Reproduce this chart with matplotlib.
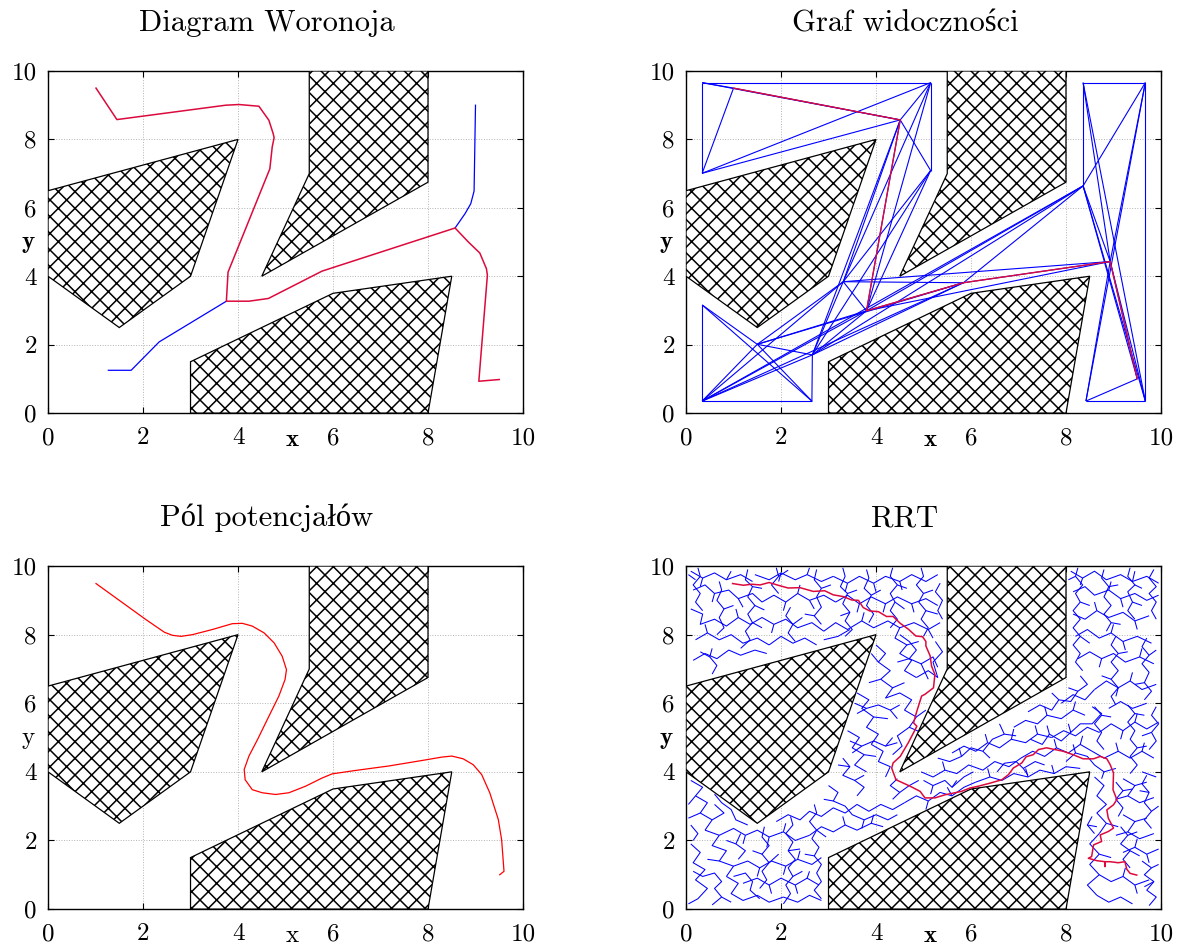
import matplotlib
matplotlib.use('Agg')
import matplotlib.pyplot as plt
from matplotlib.patches import Polygon
from matplotlib.collections import LineCollection

plt.rcParams['font.family'] = ['cmr10', 'Liberation Serif']
plt.rcParams['hatch.linewidth'] = 1.1

# Workspace obstacles (same map in every panel).
obstacle_left = [(0, 6.5), (4, 8), (3, 4), (1.5, 2.5), (0, 4)]
obstacle_top = [(5.5, 10), (8, 10), (8, 6.75), (4.5, 4), (5.5, 7)]
obstacle_bottom = [(3, 0), (3, 1.5), (6, 3.5), (8.5, 4), (8, 0)]

tick_values = [0, 2, 4, 6, 8, 10]
tick_labels = ['0', '2', '4', '6', '8', '10']

titles = ['Diagram Woronoja', 'Graf widoczności', 'Pól potencjałów', 'RRT']

# Voronoi diagram: chosen route and the unused side branches.
voronoi_path = [(1.01, 9.5), (1.45, 8.58), (3.74, 9.0), (4.02, 9.02), (4.44, 8.97),
                (4.65, 8.56), (4.74, 8.17), (4.76, 8.05), (4.72, 7.78), (4.67, 7.14),
                (3.79, 4.12), (3.755, 3.27), (4.23, 3.27), (4.64, 3.35), (5.77, 4.15),
                (8.57, 5.41), (8.85, 5.0), (9.09, 4.68), (9.23, 4.22), (9.25, 4.03),
                (9.07, 0.93), (9.5, 0.98)]
voronoi_branches = [
    [(3.755, 3.27), (2.34, 2.08), (1.75, 1.25), (1.27, 1.25)],
    [(8.57, 5.41), (8.78, 5.83), (8.90, 6.12), (8.97, 6.49), (9.0, 9.0)],
]

# Visibility graph nodes, edges and the shortest route through them.
vis_nodes = {
    'A': (0.34, 9.66), 'B': (1.0, 9.5), 'C': (0.34, 7.01), 'D': (4.51, 8.57),
    'E': (5.15, 9.66), 'F': (5.15, 7.09), 'G': (3.31, 3.84), 'H': (3.80, 2.99),
    'I': (1.50, 2.01), 'J': (2.66, 1.70), 'K': (0.34, 3.16), 'L': (0.34, 0.35),
    'M': (2.65, 0.35), 'N': (8.36, 6.64), 'O': (8.93, 4.43), 'P': (8.36, 9.66),
    'Q': (9.67, 9.66), 'R': (8.42, 0.35), 'S': (9.67, 0.35), 'T': (9.5, 1.0),
    'V': (5.84, 3.81),
}
vis_edges = ['AB', 'BD', 'AD', 'AE', 'AC', 'BC', 'CD', 'CE', 'DE', 'DF', 'EF', 'EG',
             'EH', 'DG', 'DJ', 'DH', 'FG', 'FH', 'FJ', 'GJ', 'GH', 'GI', 'GL', 'GV',
             'GO', 'HI', 'HJ', 'HL', 'HV', 'HN', 'HO', 'IJ', 'IK', 'IL', 'IM', 'IV',
             'JM', 'JL', 'JV', 'JN', 'KL', 'KM', 'LM', 'LV', 'LN', 'VN', 'VO', 'NP',
             'NQ', 'NO', 'NS', 'NT', 'PQ', 'QS', 'RS', 'PS', 'QR', 'OP', 'OQ', 'OR',
             'OS', 'OT', 'RT']
vis_path = ['B', 'D', 'H', 'V', 'O', 'T']

# Potential field trajectory.
potential_path = [(1.01, 9.49), (1.57, 8.93), (2.06, 8.44), (2.45, 8.07), (2.62, 7.98),
                  (2.80, 7.95), (3.04, 8.0), (3.46, 8.15), (3.88, 8.32), (4.09, 8.33),
                  (4.30, 8.25), (4.55, 8.05), (4.76, 7.76), (4.93, 7.37), (5.02, 6.98),
                  (4.99, 6.69), (4.86, 6.21), (4.65, 5.62), (4.41, 4.94), (4.23, 4.46),
                  (4.13, 4.07), (4.15, 3.77), (4.30, 3.48), (4.51, 3.39), (4.79, 3.34),
                  (5.07, 3.39), (5.42, 3.58), (5.77, 3.82), (5.98, 3.94), (6.47, 4.04),
                  (7.17, 4.17), (7.87, 4.33), (8.29, 4.43), (8.50, 4.46), (8.74, 4.38),
                  (8.95, 4.21), (9.13, 3.92), (9.30, 3.39), (9.48, 2.61), (9.55, 2.02),
                  (9.60, 1.10), (9.51, 1.0)]

# RRT: explored tree branches, short side twigs and the extracted route.
rrt_branches = [
    # upper left band
    [(0.1, 9.85), (0.35, 9.65), (0.6, 9.8), (0.85, 9.6), (1.15, 9.75), (1.4, 9.55)],
    [(0.15, 9.3), (0.4, 9.45), (0.6, 9.2), (0.9, 9.3), (1.1, 9.05), (1.4, 9.2), (1.6, 8.95)],
    [(0.1, 8.75), (0.35, 8.6), (0.3, 8.3), (0.6, 8.45), (0.85, 8.25), (1.1, 8.5), (1.35, 8.3)],
    [(0.2, 7.85), (0.45, 8.05), (0.7, 7.85), (0.95, 8.0), (1.2, 7.75), (1.5, 7.9), (1.75, 7.7)],
    [(0.15, 7.25), (0.4, 7.45), (0.65, 7.3), (0.9, 7.55), (1.15, 7.4), (1.45, 7.55)],
    [(1.6, 8.95), (1.85, 9.15), (2.1, 8.95), (2.35, 9.2), (2.6, 9.0), (2.9, 9.15), (3.15, 8.95)],
    [(1.45, 9.75), (1.75, 9.6), (2.0, 9.8), (2.3, 9.6), (2.55, 9.75), (2.85, 9.55), (3.1, 9.7)],
    [(1.35, 8.3), (1.6, 8.5), (1.85, 8.3), (2.1, 8.45), (2.35, 8.2), (2.65, 8.35), (2.9, 8.1)],
    [(1.75, 7.7), (2.0, 7.95), (2.25, 7.75), (2.5, 7.9), (2.75, 7.7)],
    [(3.1, 9.7), (3.4, 9.5), (3.65, 9.7), (3.95, 9.5), (4.2, 9.7), (4.5, 9.55), (4.75, 9.75),
     (5.05, 9.55), (5.3, 9.75)],
    [(3.15, 8.95), (3.4, 9.15), (3.65, 8.9), (3.9, 9.1), (4.2, 8.9), (4.45, 9.1), (4.75, 8.9),
     (5.05, 9.05), (5.3, 8.85)],
    [(2.9, 8.1), (3.15, 8.35), (3.4, 8.15), (3.7, 8.4), (3.95, 8.2), (4.25, 8.4), (4.5, 8.2),
     (4.8, 8.35), (5.1, 8.15), (5.35, 8.35)],
    [(2.9, 7.85), (3.2, 7.95), (3.45, 8.15)],
    [(0.25, 9.95), (0.3, 9.7), (0.15, 9.45), (0.3, 9.2), (0.2, 8.95), (0.35, 8.7)],
    [(0.7, 9.55), (0.75, 9.3), (0.65, 9.0), (0.8, 8.75), (0.7, 8.5), (0.8, 8.2), (0.65, 8.0)],
    [(1.3, 9.9), (1.25, 9.6), (1.4, 9.4), (1.3, 9.1), (1.45, 8.85), (1.3, 8.6), (1.4, 8.35),
     (1.25, 8.1), (1.35, 7.85)],
    [(0.55, 7.6), (0.5, 7.35), (0.65, 7.1), (0.55, 6.85)],
    [(1.9, 9.95), (1.95, 9.7), (1.8, 9.45), (1.95, 9.2)],
    [(2.2, 8.8), (2.1, 8.55), (2.25, 8.3), (2.15, 8.05), (2.3, 7.8)],
    [(2.75, 9.9), (2.7, 9.6), (2.85, 9.35), (2.75, 9.1), (2.85, 8.8), (2.7, 8.55), (2.85, 8.3)],
    [(3.3, 9.95), (3.35, 9.7), (3.25, 9.4), (3.4, 9.2), (3.3, 8.9), (3.45, 8.65), (3.35, 8.4),
     (3.5, 8.15), (3.35, 7.95)],
    [(3.8, 9.9), (3.85, 9.65), (3.75, 9.35), (3.9, 9.15), (3.8, 8.85), (3.95, 8.6), (3.85, 8.35)],
    [(4.35, 9.95), (4.3, 9.7), (4.45, 9.45), (4.3, 9.2), (4.4, 8.95), (4.3, 8.7), (4.45, 8.45),
     (4.3, 8.2)],
    [(4.95, 9.95), (5.0, 9.7), (4.85, 9.45), (5.0, 9.2), (4.9, 8.95), (5.05, 8.7), (4.95, 8.45),
     (5.1, 8.2), (5.0, 7.95)],
    [(5.35, 9.5), (5.25, 9.25), (5.4, 9.0), (5.3, 8.7), (5.4, 8.45)],
    # corridor between the left and the top obstacle
    [(4.5, 8.2), (4.4, 7.9), (4.65, 7.7), (4.5, 7.45), (4.75, 7.25), (4.6, 6.95), (4.85, 6.75)],
    [(4.85, 6.75), (5.1, 6.95), (5.3, 6.75), (5.2, 7.2), (5.4, 7.5), (5.25, 7.8)],
    [(4.5, 8.0), (4.7, 7.8), (4.85, 7.55), (4.7, 7.3), (4.95, 7.15), (5.2, 7.35), (5.3, 7.05)],
    [(4.0, 7.7), (4.2, 7.45), (4.05, 7.2), (4.3, 6.95), (4.1, 6.7), (4.35, 6.45), (4.2, 6.15)],
    [(4.2, 6.15), (4.5, 6.3), (4.75, 6.1), (4.6, 5.8), (4.85, 5.6), (4.7, 5.3), (4.95, 5.15)],
    [(3.6, 6.3), (3.85, 6.1), (3.7, 5.85), (3.95, 5.6), (3.8, 5.3), (4.05, 5.1), (3.9, 4.8)],
    [(3.55, 6.0), (3.8, 5.85), (4.05, 5.95), (4.3, 5.8), (4.5, 5.95)],
    [(3.45, 4.9), (3.7, 4.75), (3.95, 4.9), (4.2, 4.75), (4.45, 4.85)],
    [(3.4, 5.2), (3.65, 5.0), (3.5, 4.7), (3.75, 4.5), (3.55, 4.2), (3.8, 4.0)],
    [(3.9, 4.8), (4.15, 4.6), (4.05, 4.3), (4.3, 4.15), (4.2, 3.85)],
    [(4.7, 5.3), (4.45, 5.05), (4.55, 4.75), (4.35, 4.5)],
    [(3.3, 4.4), (3.45, 4.15), (3.3, 3.9), (3.55, 3.75), (3.75, 3.55), (3.6, 3.3)],
    [(4.45, 3.8), (4.3, 3.6), (4.5, 3.4), (4.7, 3.6), (4.9, 3.75)],
    # lower left pocket
    [(0.1, 3.75), (0.35, 3.55), (0.2, 3.3), (0.45, 3.1), (0.3, 2.8), (0.55, 2.6), (0.4, 2.3)],
    [(0.4, 2.3), (0.7, 2.15), (0.55, 1.85), (0.85, 1.7), (0.7, 1.4), (1.0, 1.25), (0.85, 0.95)],
    [(0.85, 0.95), (1.1, 0.75), (0.95, 0.45), (1.2, 0.25), (1.5, 0.4), (1.75, 0.2), (2.05, 0.35)],
    [(0.1, 1.9), (0.3, 1.65), (0.15, 1.35), (0.4, 1.15), (0.2, 0.85), (0.45, 0.6), (0.25, 0.3),
     (0.05, 0.15)],
    [(1.0, 1.25), (1.3, 1.4), (1.55, 1.2), (1.8, 1.4), (2.1, 1.25), (2.35, 1.45), (2.65, 1.3),
     (2.85, 1.5)],
    [(0.7, 2.15), (1.0, 2.35), (1.25, 2.15), (1.5, 2.3), (1.75, 2.1), (2.05, 2.25), (2.3, 2.0),
     (2.6, 2.15)],
    [(1.2, 0.75), (1.5, 0.9), (1.75, 0.7), (2.0, 0.9), (2.3, 0.7), (2.55, 0.9), (2.8, 0.7)],
    [(2.05, 0.35), (2.35, 0.2), (2.6, 0.4), (2.85, 0.25)],
    [(0.6, 3.35), (0.75, 3.1), (0.95, 2.9), (1.05, 2.6), (1.3, 2.45)],
    [(1.15, 2.2), (1.05, 1.9), (1.25, 1.7), (1.1, 1.45)],
    [(1.65, 2.4), (1.6, 2.1), (1.75, 1.85), (1.6, 1.6), (1.75, 1.35), (1.6, 1.1), (1.7, 0.85),
     (1.55, 0.6)],
    [(2.2, 2.7), (2.25, 2.45), (2.1, 2.2), (2.25, 1.95), (2.15, 1.7), (2.3, 1.45), (2.15, 1.2),
     (2.25, 0.95), (2.1, 0.7), (2.2, 0.45), (2.05, 0.15)],
    [(2.7, 3.05), (2.75, 2.8), (2.6, 2.55), (2.75, 2.3), (2.65, 2.05), (2.8, 1.8), (2.7, 1.55),
     (2.85, 1.3), (2.75, 1.05), (2.85, 0.8), (2.7, 0.55), (2.85, 0.3)],
    [(1.0, 0.95), (1.25, 1.05), (1.4, 0.8), (1.35, 0.55), (1.55, 0.3)],
    [(0.1, 2.45), (0.25, 2.2), (0.15, 2.0)],
    [(0.15, 1.1), (0.35, 0.95), (0.6, 1.05), (0.75, 0.8), (0.6, 0.6), (0.75, 0.35), (0.55, 0.12)],
    [(0.55, 2.6), (0.8, 2.8), (0.6, 3.05)],
    [(2.6, 2.15), (2.85, 2.4), (3.1, 2.25), (3.35, 2.45), (3.6, 2.3), (3.9, 2.5), (4.15, 2.4)],
    [(1.9, 2.55), (2.15, 2.75), (2.4, 2.6), (2.6, 2.85), (2.85, 2.7), (3.1, 2.95), (3.35, 2.8),
     (3.6, 3.05)],
    [(3.6, 3.05), (3.85, 2.85), (4.1, 3.05), (4.35, 2.9), (4.6, 3.1)],
    [(3.0, 3.6), (3.2, 3.4), (3.1, 3.15), (3.35, 3.0), (3.5, 2.75), (3.75, 2.6), (4.0, 2.75),
     (4.25, 2.6), (4.45, 2.75)],
    # middle channel
    [(4.6, 3.1), (4.85, 3.3), (5.1, 3.15), (5.35, 3.4), (5.6, 3.3), (5.85, 3.55), (6.1, 3.7)],
    [(4.95, 4.0), (5.2, 3.85), (5.45, 4.05), (5.7, 3.95), (5.95, 4.2), (6.25, 4.05), (6.5, 4.3),
     (6.8, 4.15), (7.05, 4.4)],
    [(6.1, 3.7), (6.4, 3.85), (6.65, 3.75), (6.9, 3.95), (7.2, 3.85), (7.45, 4.05), (7.75, 3.95),
     (8.0, 4.15), (8.3, 4.1)],
    [(5.6, 4.55), (5.85, 4.75), (6.1, 4.6), (6.35, 4.85), (6.6, 4.7), (6.85, 4.95), (7.15, 4.85),
     (7.4, 5.1), (7.7, 5.0)],
    [(6.9, 5.3), (7.15, 5.5), (7.4, 5.4), (7.6, 5.65), (7.9, 5.55), (8.15, 5.8), (8.4, 5.65)],
    [(7.7, 5.0), (7.95, 5.2), (8.2, 5.05), (8.45, 5.3), (8.7, 5.15)],
    [(7.05, 4.4), (7.3, 4.6), (7.55, 4.45), (7.8, 4.7), (8.05, 4.55), (8.3, 4.8), (8.55, 4.6)],
    [(7.9, 6.0), (8.15, 6.25), (8.4, 6.1), (8.6, 6.4)],
    [(5.0, 3.75), (5.2, 3.6), (5.45, 3.75), (5.6, 3.55), (5.85, 3.85), (6.05, 4.0)],
    [(5.3, 4.4), (5.55, 4.3), (5.8, 4.45), (6.0, 4.7), (6.25, 4.6), (6.45, 4.95), (6.7, 5.1),
     (6.6, 5.4)],
    [(6.55, 4.0), (6.7, 4.25), (6.95, 4.3), (7.1, 4.1), (7.35, 4.3), (7.55, 4.2)],
    [(7.25, 4.95), (7.5, 4.8), (7.65, 5.1), (7.9, 4.9), (8.1, 5.15), (8.3, 5.4), (8.55, 5.4),
     (8.75, 5.7), (8.55, 5.9)],
    [(7.2, 5.75), (7.45, 5.95), (7.7, 5.8), (7.85, 6.1), (8.1, 6.05), (8.25, 6.35), (8.45, 6.55),
     (8.3, 6.8)],
    [(8.0, 4.3), (8.2, 4.55), (8.45, 4.45), (8.6, 4.2), (8.8, 4.0), (9.05, 4.1)],
    # right column
    [(8.1, 9.85), (8.35, 9.65), (8.6, 9.85), (8.85, 9.6), (9.15, 9.75), (9.4, 9.55), (9.7, 9.7),
     (9.95, 9.5)],
    [(8.15, 9.25), (8.4, 9.4), (8.6, 9.15), (8.9, 9.3), (9.15, 9.05), (9.45, 9.2), (9.7, 9.0),
     (9.95, 9.15)],
    [(8.15, 8.6), (8.4, 8.45), (8.65, 8.7), (8.9, 8.5), (9.2, 8.65), (9.45, 8.4), (9.75, 8.55)],
    [(8.2, 7.95), (8.45, 8.15), (8.7, 7.9), (8.95, 8.05), (9.2, 7.8), (9.5, 7.95), (9.8, 7.75)],
    [(8.25, 7.3), (8.5, 7.5), (8.75, 7.3), (9.0, 7.45), (9.25, 7.2), (9.55, 7.35), (9.85, 7.15)],
    [(8.6, 6.4), (8.85, 6.65), (9.1, 6.45), (9.35, 6.65), (9.6, 6.4), (9.9, 6.55)],
    [(8.7, 5.15), (8.95, 5.4), (9.2, 5.2), (9.45, 5.45), (9.7, 5.25), (9.95, 5.45)],
    [(8.9, 5.85), (9.15, 6.05), (9.4, 5.85), (9.7, 6.0)],
    [(8.55, 4.6), (8.8, 4.4), (9.1, 4.6), (9.35, 4.4), (9.6, 4.6), (9.85, 4.4)],
    [(8.6, 3.85), (8.8, 3.6), (8.65, 3.3), (8.85, 3.05), (8.65, 2.8), (8.85, 2.5), (8.7, 2.2)],
    [(9.2, 3.8), (9.45, 3.6), (9.3, 3.3), (9.55, 3.1), (9.85, 3.25)],
    [(9.2, 2.75), (9.45, 2.55), (9.3, 2.25), (9.55, 2.05), (9.85, 2.2)],
    [(8.7, 2.2), (8.5, 1.9), (8.7, 1.6), (8.5, 1.3), (8.7, 1.0), (8.45, 0.7), (8.65, 0.4)],
    [(9.2, 1.65), (9.45, 1.8), (9.7, 1.6), (9.95, 1.75)],
    [(8.7, 1.0), (8.95, 0.8), (9.2, 0.95), (9.45, 0.7), (9.75, 0.85)],
    [(8.65, 0.4), (8.9, 0.2), (9.15, 0.35), (9.4, 0.15)],
    [(9.6, 4.0), (9.9, 3.85)],
    [(8.25, 9.95), (8.2, 9.7), (8.35, 9.45), (8.2, 9.2), (8.3, 8.95), (8.15, 8.7), (8.3, 8.45),
     (8.15, 8.2), (8.3, 7.95), (8.15, 7.7), (8.3, 7.45), (8.2, 7.2), (8.35, 6.95)],
    [(8.8, 9.9), (8.75, 9.65), (8.9, 9.4), (8.8, 9.1), (8.95, 8.85), (8.8, 8.6), (8.95, 8.35),
     (8.85, 8.1)],
    [(9.35, 9.95), (9.3, 9.7), (9.45, 9.45), (9.3, 9.25), (9.4, 8.95), (9.3, 8.7), (9.45, 8.45)],
    [(9.85, 9.9), (9.75, 9.65), (9.9, 9.4), (9.75, 9.2), (9.9, 8.95), (9.8, 8.7), (9.9, 8.45)],
    [(9.05, 7.95), (8.95, 7.7), (9.1, 7.45), (8.95, 7.2), (9.1, 6.95), (8.95, 6.7), (9.1, 6.45),
     (8.95, 6.2), (9.05, 5.95)],
    [(9.7, 7.9), (9.6, 7.65), (9.75, 7.4), (9.6, 7.15), (9.75, 6.9), (9.65, 6.6), (9.8, 6.35),
     (9.65, 6.1)],
    [(8.6, 5.9), (8.75, 5.65), (8.6, 5.4), (8.75, 5.15), (8.65, 4.9), (8.8, 4.65)],
    [(9.3, 5.95), (9.45, 5.7), (9.3, 5.45), (9.45, 5.2), (9.35, 4.95), (9.5, 4.7), (9.35, 4.45),
     (9.5, 4.2), (9.35, 3.95)],
    [(9.9, 5.9), (9.8, 5.65), (9.95, 5.4), (9.8, 5.15), (9.9, 4.9), (9.75, 4.65)],
    [(9.05, 3.7), (9.2, 3.45), (9.05, 3.2), (9.2, 2.95), (9.1, 2.7)],
    [(9.7, 3.9), (9.6, 3.65), (9.75, 3.4), (9.65, 3.1), (9.8, 2.85), (9.65, 2.6), (9.8, 2.35)],
    [(9.15, 2.4), (9.3, 2.15), (9.15, 1.9), (9.35, 1.7), (9.2, 1.45), (9.35, 1.2)],
    [(8.55, 2.7), (8.45, 2.45), (8.6, 2.2)],
    [(9.6, 1.4), (9.8, 1.2), (9.65, 1.0), (9.85, 0.8), (9.7, 0.55), (9.9, 0.35), (9.75, 0.1)],
]
rrt_twigs = [
    ((0.35, 9.65), (0.3, 9.4)), ((0.85, 9.6), (0.95, 9.85)), ((0.6, 9.2), (0.55, 8.95)),
    ((1.1, 9.05), (1.2, 8.8)), ((1.1, 8.5), (1.05, 8.75)), ((0.45, 8.05), (0.4, 8.3)),
    ((1.45, 7.55), (1.7, 7.45)), ((2.1, 8.95), (2.05, 8.7)), ((2.35, 9.2), (2.4, 9.45)),
    ((2.6, 9.0), (2.7, 8.75)), ((2.0, 9.8), (1.95, 9.55)), ((2.55, 9.75), (2.6, 9.95)),
    ((1.85, 8.3), (1.8, 8.05)), ((3.4, 9.5), (3.35, 9.25)), ((3.95, 9.5), (4.0, 9.25)),
    ((4.5, 9.55), (4.55, 9.3)), ((3.65, 8.9), (3.6, 8.65)), ((4.2, 8.9), (4.15, 8.65)),
    ((4.75, 8.9), (4.8, 8.65)), ((3.7, 8.4), (3.75, 8.65)), ((5.1, 8.15), (5.2, 7.9)),
    ((4.65, 7.7), (4.9, 7.8)), ((4.1, 6.7), (3.85, 6.6)), ((4.35, 6.45), (4.6, 6.6)),
    ((4.85, 5.6), (5.05, 5.8)), ((3.95, 5.6), (4.25, 5.55)), ((3.75, 4.5), (4.0, 4.45)),
    ((3.9, 7.45), (4.05, 7.2)), ((0.2, 3.3), (0.05, 3.05)), ((0.3, 2.8), (0.05, 2.65)),
    ((0.7, 1.4), (0.45, 1.45)), ((1.55, 1.2), (1.5, 0.95)), ((2.1, 1.25), (2.05, 1.0)),
    ((2.35, 1.45), (2.4, 1.7)), ((1.25, 2.15), (1.2, 1.9)), ((1.75, 2.1), (1.7, 1.8)),
    ((2.05, 2.25), (2.1, 2.5)), ((1.75, 0.7), (1.8, 0.45)), ((2.3, 0.7), (2.35, 0.45)),
    ((2.55, 0.9), (2.6, 1.1)), ((3.35, 2.45), (3.3, 2.7)), ((3.9, 2.5), (3.95, 2.75)),
    ((5.1, 3.15), (5.05, 2.9)), ((5.6, 3.3), (5.5, 3.55)), ((5.45, 4.05), (5.4, 4.3)),
    ((6.4, 3.85), (6.35, 4.1)), ((7.2, 3.85), (7.15, 4.1)), ((7.75, 3.95), (7.7, 4.2)),
    ((6.35, 4.85), (6.3, 5.1)), ((6.85, 4.95), (6.9, 5.25)), ((7.4, 5.1), (7.35, 5.35)),
    ((7.6, 5.65), (7.55, 5.9)), ((8.15, 5.8), (8.2, 6.05)), ((8.3, 4.8), (8.35, 5.05)),
    ((7.8, 4.7), (7.75, 4.95)), ((8.35, 9.65), (8.3, 9.45)), ((8.9, 9.3), (8.95, 9.55)),
    ((9.4, 9.55), (9.45, 9.85)), ((9.15, 9.05), (9.2, 8.8)), ((8.65, 8.7), (8.6, 8.95)),
    ((9.45, 8.4), (9.5, 8.15)), ((8.95, 8.05), (9.0, 8.3)), ((9.2, 7.8), (9.25, 7.55)),
    ((8.75, 7.3), (8.7, 7.05)), ((9.55, 7.35), (9.6, 7.6)), ((9.1, 6.45), (9.05, 6.2)),
    ((9.35, 6.65), (9.4, 6.9)), ((9.45, 5.45), (9.5, 5.7)), ((9.2, 5.2), (9.15, 4.95)),
    ((9.1, 4.6), (9.05, 4.85)), ((9.6, 4.6), (9.65, 4.85)), ((9.45, 3.6), (9.7, 3.7)),
    ((9.3, 3.3), (9.05, 3.2)), ((9.45, 2.55), (9.7, 2.65)), ((9.3, 2.25), (9.05, 2.15)),
    ((8.85, 2.5), (9.1, 2.4)), ((8.7, 1.6), (8.95, 1.5)), ((9.45, 1.8), (9.5, 2.05)),
    ((9.7, 1.6), (9.75, 1.35)), ((9.2, 0.95), (9.25, 1.2)), ((9.45, 0.7), (9.5, 0.45)),
    ((0.2, 9.6), (0.05, 9.75)), ((0.8, 8.75), (1.0, 8.85)), ((1.4, 9.4), (1.6, 9.35)),
    ((1.45, 8.85), (1.65, 8.72)), ((1.4, 8.35), (1.6, 8.2)), ((1.95, 9.7), (2.15, 9.88)),
    ((2.25, 8.3), (2.45, 8.5)), ((2.85, 9.35), (3.05, 9.45)), ((2.7, 8.55), (2.5, 8.6)),
    ((3.4, 9.2), (3.6, 9.3)), ((3.45, 8.65), (3.25, 8.55)), ((3.9, 9.15), (4.1, 9.3)),
    ((4.45, 9.45), (4.65, 9.35)), ((4.4, 8.95), (4.6, 8.75)), ((5.0, 9.2), (5.2, 9.3)),
    ((5.05, 8.7), (5.3, 8.6)), ((0.5, 7.35), (0.3, 7.5)), ((1.35, 7.85), (1.15, 7.6)),
    ((4.7, 7.3), (4.45, 7.2)), ((4.95, 7.15), (5.1, 6.7)), ((3.8, 5.85), (3.6, 5.7)),
    ((4.3, 5.8), (4.45, 5.55)), ((3.7, 4.75), (3.5, 4.55)), ((4.2, 4.75), (4.35, 5.0)),
    ((3.45, 4.15), (3.2, 4.2)), ((3.55, 3.75), (3.75, 3.9)), ((4.5, 3.4), (4.35, 3.2)),
    ((1.05, 1.9), (0.85, 2.0)), ((1.6, 1.6), (1.4, 1.7)), ((1.75, 1.35), (1.95, 1.6)),
    ((2.15, 1.7), (2.4, 1.75)), ((2.25, 0.95), (2.45, 1.1)), ((2.75, 2.3), (2.95, 2.1)),
    ((2.7, 1.55), (2.5, 1.6)), ((0.75, 0.35), (0.95, 0.2)), ((3.1, 3.15), (2.9, 3.2)),
    ((3.75, 2.6), (3.7, 2.35)), ((5.2, 3.6), (5.15, 3.35)), ((5.6, 3.55), (5.7, 3.75)),
    ((5.8, 4.45), (5.75, 4.7)), ((6.25, 4.6), (6.4, 4.4)), ((6.7, 5.1), (6.95, 5.05)),
    ((7.1, 4.1), (7.2, 3.9)), ((7.65, 5.1), (7.6, 5.35)), ((8.1, 5.15), (8.05, 5.4)),
    ((7.85, 6.1), (7.7, 6.3)), ((8.25, 6.35), (8.05, 6.45)), ((8.2, 4.55), (8.15, 4.8)),
    ((8.8, 4.0), (8.75, 3.8)), ((8.2, 9.7), (8.05, 9.6)), ((8.3, 8.95), (8.5, 8.85)),
    ((8.3, 7.95), (8.5, 7.75)), ((8.9, 9.4), (9.1, 9.45)), ((8.95, 8.35), (9.15, 8.3)),
    ((9.45, 9.45), (9.6, 9.35)), ((9.4, 8.95), (9.6, 8.85)), ((9.1, 7.45), (9.3, 7.5)),
    ((8.95, 6.7), (8.75, 6.8)), ((9.75, 7.4), (9.9, 7.55)), ((9.65, 6.6), (9.45, 6.55)),
    ((8.75, 5.65), (8.95, 5.6)), ((9.45, 5.7), (9.65, 5.65)), ((9.5, 4.7), (9.7, 4.75)),
    ((9.8, 5.15), (9.6, 5.05)), ((9.2, 3.45), (9.4, 3.5)), ((9.75, 3.4), (9.55, 3.45)),
    ((9.8, 2.85), (9.95, 3.0)), ((9.3, 2.15), (9.5, 2.25)), ((9.35, 1.7), (9.55, 1.55)),
    ((9.8, 1.2), (9.95, 1.3)), ((9.85, 0.8), (9.65, 0.65)), ((8.45, 2.45), (8.65, 2.4)),
]
rrt_path = [(0.98, 9.49), (1.21, 9.44), (1.38, 9.47), (1.56, 9.45), (1.75, 9.52), (1.94, 9.44),
            (2.15, 9.36), (2.40, 9.37), (2.68, 9.26), (2.92, 9.28), (3.10, 9.16), (3.31, 9.11),
            (3.49, 9.01), (3.63, 9.0), (3.73, 8.79), (3.87, 8.69), (4.05, 8.67), (4.22, 8.53),
            (4.36, 8.53), (4.51, 8.33), (4.68, 8.16), (4.84, 7.96), (4.98, 7.94), (5.05, 7.80),
            (5.05, 7.67), (5.14, 7.38), (5.17, 7.08), (5.24, 6.84), (5.21, 6.45), (5.03, 6.26),
            (4.96, 6.21), (4.86, 5.77), (4.79, 5.43), (4.86, 5.33), (4.79, 5.14), (4.68, 4.85),
            (4.51, 4.45), (4.36, 4.26), (4.33, 4.11), (4.42, 3.77), (4.72, 3.58), (4.93, 3.43),
            (5.03, 3.24), (5.24, 3.24), (5.45, 3.33), (5.80, 3.43), (5.98, 3.53), (6.15, 3.58),
            (6.40, 3.67), (6.65, 3.77), (6.79, 3.92), (6.89, 4.11), (7.07, 4.26), (7.16, 4.44),
            (7.31, 4.50), (7.42, 4.65), (7.59, 4.70), (7.94, 4.60), (8.15, 4.50), (8.36, 4.38),
            (8.58, 4.38), (8.72, 4.45), (8.86, 4.38), (8.93, 4.21), (9.0, 3.97), (8.99, 3.48),
            (9.07, 3.19), (9.0, 3.04), (8.86, 2.89), (8.89, 2.65), (9.0, 2.36), (8.89, 2.26),
            (8.72, 2.16), (8.75, 1.97), (8.58, 1.87), (8.54, 1.53), (8.47, 1.48), (8.65, 1.41),
            (8.82, 1.38), (8.82, 1.24), (8.82, 1.38), (8.93, 1.38), (9.10, 1.35), (9.24, 1.38),
            (9.28, 1.16), (9.35, 1.04), (9.49, 0.99)]

BLUE = '#0000ff'
CRIMSON = '#dc0a3c'
RED = '#ff0000'


def setup_axes(ax, title, bold_labels=True):
    ax.set_xlim(0, 10)
    ax.set_ylim(0, 10)
    ax.set_xticks(tick_values)
    ax.set_xticklabels(tick_labels)
    ax.set_yticks(tick_values)
    ax.set_yticklabels(tick_labels)
    ax.tick_params(direction='in', top=True, right=True, length=4, width=0.8,
                   labelsize=18, pad=8)
    ax.tick_params(axis='x', pad=10)
    ax.grid(True, linestyle=':', color='#b4b4b4', linewidth=0.7)
    ax.set_axisbelow(True)
    for spine in ax.spines.values():
        spine.set_linewidth(1.0)

    for obs in (obstacle_left, obstacle_top, obstacle_bottom):
        ax.add_patch(Polygon(obs, closed=True, facecolor='white', edgecolor='black',
                             hatch='xx', linewidth=0.9, zorder=3))

    label_family = ['cmb10', 'Liberation Serif'] if bold_labels else ['cmr10', 'Liberation Serif']
    ax.set_xlabel('x', fontsize=18, family=label_family, va='baseline')
    ax.xaxis.set_label_coords(0.515, -0.095)
    ax.set_ylabel('y', fontsize=18, family=label_family, rotation=0, va='center', ha='center')
    ax.yaxis.set_label_coords(-0.042, 0.5)

    ax.text(0.461, 1.116, title, transform=ax.transAxes, ha='center', va='baseline',
            fontsize=22)


def xy(points):
    return [p[0] for p in points], [p[1] for p in points]


def main():
    fig = plt.figure(figsize=(11.83, 9.48), dpi=100)
    ax_vor = fig.add_axes([0.0406, 0.5643, 0.4015, 0.3608])
    ax_vis = fig.add_axes([0.5799, 0.5643, 0.4015, 0.3608])
    ax_pot = fig.add_axes([0.0406, 0.0411, 0.4015, 0.3618])
    ax_rrt = fig.add_axes([0.5799, 0.0411, 0.4015, 0.3618])

    # Voronoi roadmap.
    setup_axes(ax_vor, titles[0])
    for branch in voronoi_branches:
        bx, by = xy(branch)
        ax_vor.plot(bx, by, color=BLUE, linewidth=0.9, zorder=4)
    vx, vy = xy(voronoi_path)
    ax_vor.plot(vx, vy, color=CRIMSON, linewidth=1.1, zorder=5)

    # Visibility graph.
    setup_axes(ax_vis, titles[1])
    segs = [[vis_nodes[e[0]], vis_nodes[e[1]]] for e in vis_edges]
    ax_vis.add_collection(LineCollection(segs, colors=BLUE, linewidths=0.8, zorder=4))
    px, py = xy([vis_nodes[n] for n in vis_path])
    ax_vis.plot(px, py, color=CRIMSON, linewidth=1.0, zorder=5)

    # Potential field.
    setup_axes(ax_pot, titles[2], bold_labels=False)
    fx, fy = xy(potential_path)
    ax_pot.plot(fx, fy, color=RED, linewidth=0.9, zorder=4)

    # Rapidly-exploring random tree.
    setup_axes(ax_rrt, titles[3])
    tree = list(rrt_branches) + [list(t) for t in rrt_twigs]
    ax_rrt.add_collection(LineCollection(tree, colors=BLUE, linewidths=0.75, zorder=2))
    rx, ry = xy(rrt_path)
    ax_rrt.plot(rx, ry, color=CRIMSON, linewidth=1.1, zorder=4)

    fig.savefig('out.png', dpi=100)


if __name__ == '__main__':
    main()
